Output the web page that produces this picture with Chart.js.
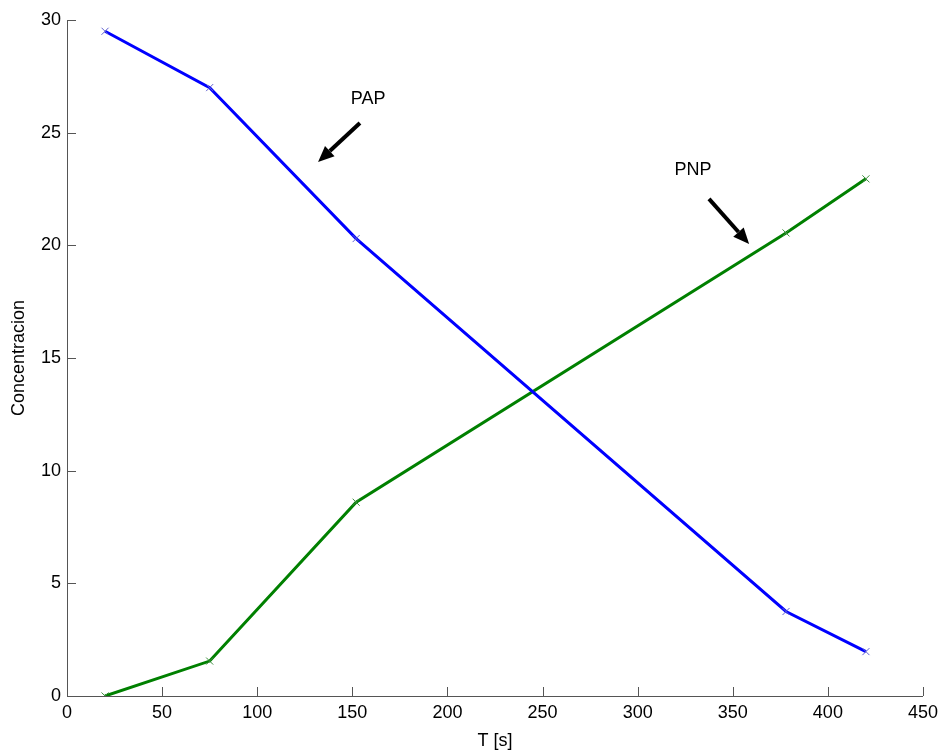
<!DOCTYPE html>
<html>
<head>
<meta charset="utf-8">
<script src="https://cdn.jsdelivr.net/npm/chart.js@4.4.1/dist/chart.umd.min.js"></script>
<style>
    html, body { margin: 0; padding: 0; background: #fff; }
    #wrap { width: 944px; height: 756px; }
</style>
</head>
<body>
<div id="wrap"><canvas id="chart"></canvas></div>
<script>
// tiempos de muestreo
var tiempos = [20, 75, 152, 378, 420];
var pap = [29.5, 27.0, 20.3, 3.75, 1.97];
var pnp = [0.0, 1.55, 8.6, 20.55, 22.95];

var xTicks = [0, 50, 100, 150, 200, 250, 300, 350, 400, 450];
var yTicks = [0, 5, 10, 15, 20, 25, 30];

// etiquetas con flecha: texto, posicion del texto, cola y punta de la flecha
var etiquetas = ['PAP', 'PNP'];
var etiquetaX = [158.3, 329.1];
var etiquetaY = [26.5, 23.32];
var flechaDesdeX = [154.0, 337.5];
var flechaDesdeY = [25.43, 22.06];
var flechaHastaX = [132.0, 358.6];
var flechaHastaY = [23.7, 20.06];

var fuente = { family: 'Liberation Sans, Arial, Helvetica, sans-serif', size: 18 };

function puntos(xs, ys) {
    return xs.map(function (x, i) { return { x: x, y: ys[i] }; });
}

// marcas de graduacion hacia adentro, como en matlab
var ticksAdentro = {
    id: 'ticksAdentro',
    afterDraw: function (chart) {
        var ctx = chart.ctx;
        var xs = chart.scales.x, ys = chart.scales.y;
        var largo = 9;
        ctx.save();
        ctx.strokeStyle = '#555';
        ctx.lineWidth = 1;
        ctx.beginPath();
        xTicks.forEach(function (v) {
            var px = Math.round(xs.getPixelForValue(v)) + 0.5;
            ctx.moveTo(px, ys.bottom);
            ctx.lineTo(px, ys.bottom - largo);
        });
        yTicks.forEach(function (v) {
            var py = Math.round(ys.getPixelForValue(v)) + 0.5;
            ctx.moveTo(xs.left, py);
            ctx.lineTo(xs.left + largo, py);
        });
        ctx.stroke();
        ctx.restore();
    }
};

var flechas = {
    id: 'flechas',
    afterDatasetsDraw: function (chart) {
        var ctx = chart.ctx;
        var xs = chart.scales.x, ys = chart.scales.y;
        ctx.save();
        ctx.fillStyle = '#000';
        ctx.strokeStyle = '#000';
        ctx.font = fuente.size + 'px ' + fuente.family;
        ctx.textAlign = 'center';
        ctx.textBaseline = 'middle';
        etiquetas.forEach(function (txt, i) {
            ctx.fillText(txt, xs.getPixelForValue(etiquetaX[i]), ys.getPixelForValue(etiquetaY[i]));

            var x0 = xs.getPixelForValue(flechaDesdeX[i]);
            var y0 = ys.getPixelForValue(flechaDesdeY[i]);
            var x1 = xs.getPixelForValue(flechaHastaX[i]);
            var y1 = ys.getPixelForValue(flechaHastaY[i]);
            var ang = Math.atan2(y1 - y0, x1 - x0);
            var cabeza = 16, ancho = 7;
            var bx = x1 - cabeza * Math.cos(ang);
            var by = y1 - cabeza * Math.sin(ang);

            ctx.lineWidth = 4;
            ctx.beginPath();
            ctx.moveTo(x0, y0);
            ctx.lineTo(bx, by);
            ctx.stroke();

            ctx.beginPath();
            ctx.moveTo(x1, y1);
            ctx.lineTo(bx + ancho * Math.sin(ang), by - ancho * Math.cos(ang));
            ctx.lineTo(bx - ancho * Math.sin(ang), by + ancho * Math.cos(ang));
            ctx.closePath();
            ctx.fill();
        });
        ctx.restore();
    }
};

var ctx = document.getElementById('chart').getContext('2d');
var chart = new Chart(ctx, {
    type: 'line',
    data: {
        datasets: [{
            label: 'PAP',
            data: puntos(tiempos, pap),
            borderColor: '#0000ff',
            backgroundColor: '#0000ff',
            borderWidth: 3,
            pointStyle: 'crossRot',
            pointRadius: 5,
            pointBorderWidth: 1,
            pointBorderColor: '#6060d0',
            tension: 0
        }, {
            label: 'PNP',
            data: puntos(tiempos, pnp),
            borderColor: '#008000',
            backgroundColor: '#008000',
            borderWidth: 3,
            pointStyle: 'crossRot',
            pointRadius: 5,
            pointBorderWidth: 1,
            pointBorderColor: '#3c8c3c',
            tension: 0
        }]
    },
    options: {
        responsive: true,
        maintainAspectRatio: false,
        animation: false,
        layout: {
            padding: { top: 20, right: 18, left: 0, bottom: 0 }
        },
        scales: {
            x: {
                type: 'linear',
                min: 0,
                max: 450,
                afterFit: function (scale) { scale.height = 60; },
                afterBuildTicks: function (scale) {
                    scale.ticks = xTicks.map(function (v) { return { value: v }; });
                },
                grid: { display: false, drawTicks: false },
                border: { display: true, color: '#555', width: 1 },
                ticks: {
                    color: '#000',
                    font: fuente,
                    padding: 6,
                    maxRotation: 0,
                    autoSkip: false
                },
                title: {
                    display: true,
                    text: 'T [s]',
                    color: '#000',
                    font: fuente,
                    padding: { top: 0, bottom: 4 }
                }
            },
            y: {
                type: 'linear',
                min: 0,
                max: 30,
                afterFit: function (scale) { scale.width = 67; },
                afterBuildTicks: function (scale) {
                    scale.ticks = yTicks.map(function (v) { return { value: v }; });
                },
                grid: { display: false, drawTicks: false },
                border: { display: true, color: '#555', width: 1 },
                ticks: {
                    color: '#000',
                    font: fuente,
                    padding: 6,
                    autoSkip: false
                },
                title: {
                    display: true,
                    text: 'Concentracion',
                    color: '#000',
                    font: fuente,
                    padding: { top: 8, bottom: 0 }
                }
            }
        },
        plugins: {
            legend: { display: false },
            tooltip: { enabled: false }
        }
    },
    plugins: [ticksAdentro, flechas]
});
</script>
</body>
</html>
